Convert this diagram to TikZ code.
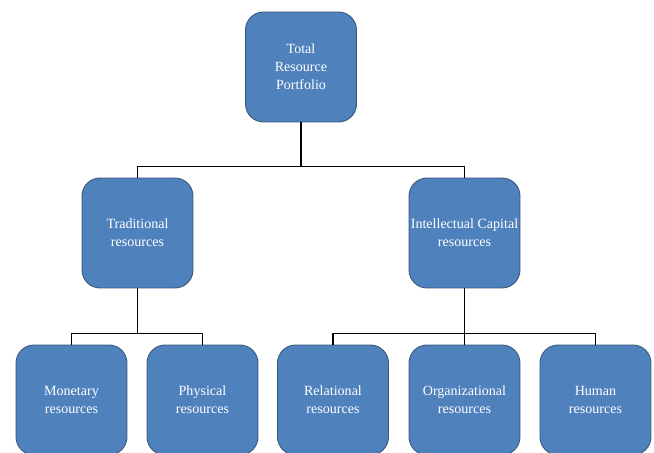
\documentclass[tikz,border=0pt]{standalone}
\usepackage{fontspec}
\setmainfont{Liberation Serif}
\begin{document}
\begin{tikzpicture}[x=0.02cm, y=-0.02cm, font=\fontsize{8}{10.2}\selectfont, line join=round,
    resbox/.style={draw={rgb,255:red,58;green,86;blue,120}, line width=0.5pt, fill={rgb,255:red,79;green,129;blue,189},
      text=white, rounded corners=0.36cm, minimum width=2.22cm, minimum height=2.2cm,
      align=center, inner sep=1pt},
    link/.style={draw=black, line width=0.8pt}]
    \useasboundingbox (0,0) rectangle (654,453);
    % top level
    \node[resbox] (total) at (301,67) {Total\\Resource\\Portfolio};
    % second level
    \node[resbox] (trad) at (137.5,233) {Traditional\\resources};
    \node[resbox] (intel) at (464.5,233) {Intellectual Capital\\resources};
    % third level
    \node[resbox] (money) at (71.5,400) {Monetary\\resources};
    \node[resbox] (phys) at (202.5,400) {Physical\\resources};
    \node[resbox] (rel) at (333,400) {Relational\\resources};
    \node[resbox] (org) at (464.5,400) {Organizational\\resources};
    \node[resbox] (hum) at (595.5,400) {Human\\resources};
    % connectors
    \draw[link] (total.south) -- ++(0,44) coordinate (j1) -| (trad.north);
    \draw[link] (j1) -| (intel.north);
    \draw[link] (trad.south) -- ++(0,45) coordinate (j2) -| (money.north);
    \draw[link] (j2) -| (phys.north);
    \draw[link] (intel.south) -- ++(0,45) coordinate (j3) -| (rel.north);
    \draw[link] (j3) -| (hum.north);
    \draw[link] (j3) -- (org.north);
\end{tikzpicture}
\end{document}
